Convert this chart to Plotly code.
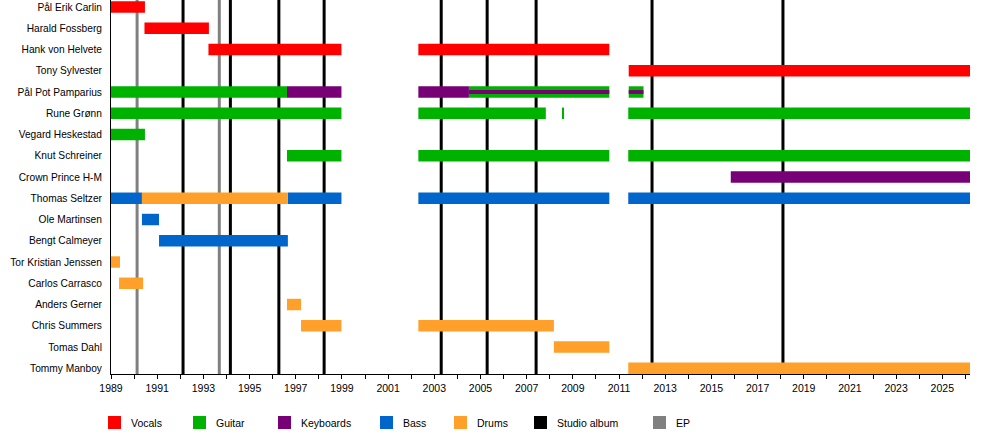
import plotly.graph_objects as go

# ---------------- data ----------------
END = 2026.2

members = [
    "Pål Erik Carlin", "Harald Fossberg", "Hank von Helvete", "Tony Sylvester",
    "Pål Pot Pamparius", "Rune Grønn", "Vegard Heskestad", "Knut Schreiner",
    "Crown Prince H-M", "Thomas Seltzer", "Ole Martinsen", "Bengt Calmeyer",
    "Tor Kristian Jenssen", "Carlos Carrasco", "Anders Gerner", "Chris Summers",
    "Tomas Dahl", "Tommy Manboy",
]

roles = ["Vocals", "Guitar", "Keyboards", "Bass", "Drums"]
role_colors = ["#FF0000", "#00B200", "#770077", "#0066CC", "#FFA02A"]

# (member, role, start, end)
periods_member = [
    "Pål Erik Carlin", "Harald Fossberg", "Hank von Helvete", "Hank von Helvete",
    "Tony Sylvester",
    "Pål Pot Pamparius", "Pål Pot Pamparius", "Pål Pot Pamparius",
    "Pål Pot Pamparius", "Pål Pot Pamparius",
    "Rune Grønn", "Rune Grønn", "Rune Grønn", "Rune Grønn",
    "Vegard Heskestad",
    "Knut Schreiner", "Knut Schreiner", "Knut Schreiner",
    "Crown Prince H-M",
    "Thomas Seltzer", "Thomas Seltzer", "Thomas Seltzer", "Thomas Seltzer", "Thomas Seltzer",
    "Ole Martinsen", "Bengt Calmeyer",
    "Tor Kristian Jenssen", "Carlos Carrasco", "Anders Gerner",
    "Chris Summers", "Chris Summers", "Tomas Dahl", "Tommy Manboy",
]
periods_role = [
    "Vocals", "Vocals", "Vocals", "Vocals",
    "Vocals",
    "Guitar", "Keyboards", "Keyboards",
    "Guitar", "Guitar",
    "Guitar", "Guitar", "Guitar", "Guitar",
    "Guitar",
    "Guitar", "Guitar", "Guitar",
    "Keyboards",
    "Bass", "Drums", "Bass", "Bass", "Bass",
    "Bass", "Bass",
    "Drums", "Drums", "Drums",
    "Drums", "Drums", "Drums", "Drums",
]
periods_start = [
    1989.0, 1990.45, 1993.22, 2002.31,
    2011.42,
    1989.0, 1996.62, 2002.31,
    2004.5, 2011.42,
    1989.0, 2002.31, 2008.57, 2011.4,
    1989.0,
    1996.62, 2002.31, 2011.4,
    2015.84,
    1989.0, 1990.34, 1996.66, 2002.31, 2011.4,
    1990.34, 1991.08,
    1989.0, 1989.35, 1996.62,
    1997.23, 2002.31, 2008.18, 2011.4,
]
periods_end = [
    1990.47, 1993.24, 1998.98, 2010.58,
    END,
    1996.62, 1998.98, 2004.5,
    2010.58, 2012.06,
    1998.98, 2007.83, 2008.62, END,
    1990.47,
    1998.98, 2010.58, END,
    END,
    1990.34, 1996.66, 1998.98, 2010.58, END,
    1991.08, 1996.66,
    1989.39, 1990.39, 1997.23,
    1998.98, 2008.18, 2010.58, END,
]

# secondary role stripes (keyboards inside guitar bars)
stripe_member = ["Pål Pot Pamparius", "Pål Pot Pamparius"]
stripe_role = ["Keyboards", "Keyboards"]
stripe_start = [2004.5, 2011.42]
stripe_end = [2010.58, 2012.06]

studio_albums = [1992.12, 1994.17, 1996.27, 1998.23, 2003.3, 2005.29, 2007.41, 2012.43, 2018.1]
eps = [1990.13, 1993.69]

tick_years = list(range(1989, 2027))
tick_labels = [str(y) if y % 2 == 1 else "" for y in tick_years]

legend_labels = ["Vocals", "Guitar", "Keyboards", "Bass", "Drums", "Studio album", "EP"]
legend_colors = role_colors + ["#000000", "#808080"]

# ---------------- figure ----------------
FONT = "Liberation Sans, Arial, sans-serif"
row = {m: i for i, m in enumerate(members)}

fig = go.Figure()

for role, color in zip(roles, role_colors):
    idx = [i for i, r in enumerate(periods_role) if r == role]
    fig.add_trace(go.Bar(
        orientation="h",
        y=[row[periods_member[i]] for i in idx],
        base=[periods_start[i] for i in idx],
        x=[periods_end[i] - periods_start[i] for i in idx],
        width=0.54,
        marker=dict(color=color, line=dict(width=0)),
        name=role,
        showlegend=False,
        hoverinfo="skip",
    ))

for role, color in zip(roles, role_colors):
    idx = [i for i, r in enumerate(stripe_role) if r == role]
    if not idx:
        continue
    fig.add_trace(go.Bar(
        orientation="h",
        y=[row[stripe_member[i]] for i in idx],
        base=[stripe_start[i] for i in idx],
        x=[stripe_end[i] - stripe_start[i] for i in idx],
        width=0.18,
        marker=dict(color=color, line=dict(width=0)),
        showlegend=False,
        hoverinfo="skip",
    ))

shapes = []
for yr in studio_albums:
    shapes.append(dict(type="line", xref="x", yref="paper", x0=yr, x1=yr, y0=0, y1=1,
                       line=dict(color="#000000", width=3), layer="below"))
for yr in eps:
    shapes.append(dict(type="line", xref="x", yref="paper", x0=yr, x1=yr, y0=0, y1=1,
                       line=dict(color="#808080", width=3), layer="below"))

# custom legend (layout positions in pixels)
W, H = 1000, 434
ML, MR, MT, MB = 111, 30, 0, 60
PW, PH = W - ML - MR, H - MT - MB
legend_px = [108, 193, 278, 380, 454, 534, 653]
legend_cy = 422.5
annotations = []
for lab, col, px in zip(legend_labels, legend_colors, legend_px):
    x0 = (px - ML) / PW
    x1 = (px + 13 - ML) / PW
    y0 = (H - MB - (legend_cy + 6.5)) / PH
    y1 = (H - MB - (legend_cy - 6.5)) / PH
    shapes.append(dict(type="rect", xref="paper", yref="paper", x0=x0, x1=x1, y0=y0, y1=y1,
                       fillcolor=col, line=dict(width=0)))
    annotations.append(dict(xref="paper", yref="paper", x=(px + 21 - ML) / PW,
                            y=(H - MB - legend_cy) / PH, text=lab, showarrow=False,
                            xanchor="left", yanchor="middle",
                            font=dict(family=FONT, size=10.5, color="#000000")))

fig.update_layout(
    width=W, height=H,
    margin=dict(l=ML, r=MR, t=MT, b=MB),
    paper_bgcolor="white", plot_bgcolor="white",
    barmode="overlay",
    showlegend=False,
    shapes=shapes,
    annotations=annotations,
    font=dict(family=FONT, size=10.5, color="#000000"),
)
fig.update_xaxes(
    range=[1989, END],
    tickmode="array", tickvals=tick_years, ticktext=tick_labels,
    ticks="outside", ticklen=4, tickwidth=1, tickcolor="#000000",
    showline=True, linecolor="#000000", linewidth=1,
    showgrid=False, zeroline=False,
    tickfont=dict(family=FONT, size=10.5, color="#000000"),
)
fig.update_yaxes(
    range=[17.27, -0.33],
    tickmode="array", tickvals=list(range(len(members))), ticktext=members,
    ticks="", showline=True, linecolor="#000000", linewidth=1,
    showgrid=False, zeroline=False, ticklabelstandoff=6,
    tickfont=dict(family=FONT, size=10.2, color="#000000"),
)

fig.write_html(
    "out.html",
    config={"displayModeBar": False},
    post_script="document.body.style.margin='0';document.body.style.overflow='hidden';",
)
